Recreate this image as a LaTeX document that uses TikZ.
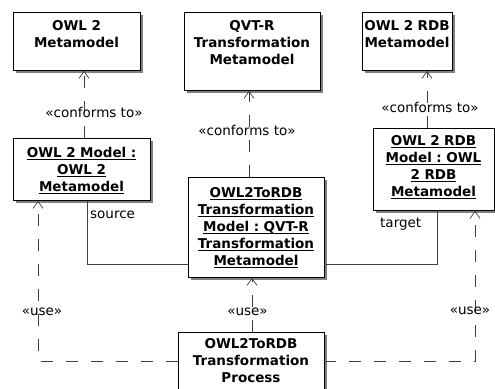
\documentclass[tikz,border=0pt]{standalone}
\usepackage{fontspec}
\setmainfont{DejaVu Sans}
\usetikzlibrary{arrows.meta,shadows}
\frenchspacing

\newcommand{\ulin}[1]{\leavevmode\setbox0\hbox{#1}\rlap{\rule[-2.5pt]{\wd0}{1pt}}\box0}

\tikzset{
    umlbox/.style={draw=black, fill=white, line width=0.8pt, inner sep=0pt, align=center, anchor=north,
        font=\fontsize{13.5}{17}\selectfont\bfseries,
        drop shadow={shadow xshift=2.5pt, shadow yshift=-2.5pt, fill=black!50, opacity=1}},
    dep/.style={draw=black!75, line width=0.7pt, dash pattern=on 12pt off 13pt,
        -{Straight Barb[length=7pt,width=10pt]}},
    wire/.style={draw=black!75, line width=0.7pt},
    lbl/.style={font=\fontsize{13.5}{17}\selectfont, inner sep=0pt, anchor=base}
}

\begin{document}
\begin{tikzpicture}[x=1pt, y=-1pt]
    \useasboundingbox (0,0) rectangle (495,388);

    % Metamodels
    \node[umlbox, text width=127pt, text height=18pt, text depth=40pt] (owlmm) at (76.5,12) {OWL 2\\Metamodel};
    \node[umlbox, text width=136pt, text height=18pt, text depth=60pt] (qvtmm) at (252,12) {QVT-R\\Transformation\\Metamodel};
    \node[umlbox, text width=90pt, text height=18pt, text depth=40pt] (rdbmm) at (407,12) {OWL 2 RDB\\Metamodel};

    % Models
    \node[umlbox, text width=137pt, text height=19pt, text depth=43pt] (owlmod) at (81.5,138)
        {\ulin{OWL 2 Model :}\\\ulin{OWL 2}\\\ulin{Metamodel}};
    \node[umlbox, text width=121pt, text height=17pt, text depth=65pt] (rdbmod) at (433.5,128)
        {\ulin{OWL 2 RDB}\\\ulin{Model : OWL}\\\ulin{2 RDB}\\\ulin{Metamodel}};
    \node[umlbox, text width=136pt, text height=20pt, text depth=80pt] (trmod) at (256,177)
        {\ulin{OWL2ToRDB}\\\ulin{Transformation}\\\ulin{Model : QVT-R}\\\ulin{Transformation}\\\ulin{Metamodel}};

    % Process
    \node[umlbox, text width=146pt, text height=16pt, text depth=70pt] (proc) at (251,332)
        {OWL2ToRDB\\Transformation\\Process};

    % conforms to
    \draw[dep] ([xshift=2.5pt]owlmod.north) -- ([xshift=2.5pt]owlmod.north |- owlmm.south);
    \draw[dep] ([xshift=-7pt]trmod.north) -- ([xshift=-7pt]trmod.north |- qvtmm.south);
    \draw[dep] ([xshift=-6.5pt]rdbmod.north) -- ([xshift=-6.5pt]rdbmod.north |- rdbmm.south);
    \node[lbl] (cf1) at (94,117) {«conforms to»};
    \node[lbl] (cf2) at (247,135) {«conforms to»};
    \node[lbl] (cf3) at (430,112) {«conforms to»};

    % source and target
    \draw[wire] ([xshift=5.5pt]owlmod.south) |- ([yshift=-37pt]trmod.west);
    \draw[wire] ([xshift=3.5pt]rdbmod.south) |- ([yshift=-37pt]trmod.east);
    \node[lbl, anchor=base west] (src) at (90,218) {source};
    \node[lbl, anchor=base west] (tgt) at (380,227) {target};

    % use
    \draw[dep] ([xshift=1pt]proc.north) -- ([xshift=1pt]proc.north |- trmod.south);
    \draw[dep] ([yshift=14pt]proc.west) -| ([xshift=-43.5pt]owlmod.south);
    \draw[dep] ([yshift=14pt]proc.east) -| ([xshift=41.5pt]rdbmod.south);
    \node[lbl] (use1) at (42,315) {«use»};
    \node[lbl] (use2) at (247.5,315) {«use»};
    \node[lbl] (use3) at (470,314) {«use»};
\end{tikzpicture}
\end{document}
